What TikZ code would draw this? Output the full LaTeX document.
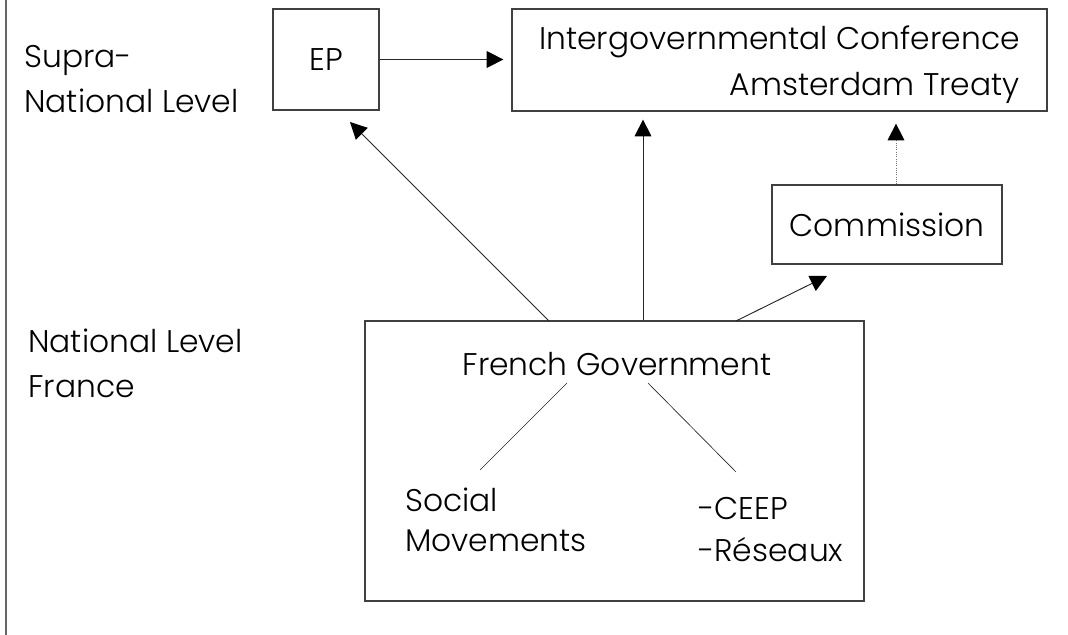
\documentclass[tikz,border=0pt]{standalone}
\usepackage{fontspec}
\setmainfont{Poppins Light}
\usetikzlibrary{arrows.meta}
\begin{document}
\begin{tikzpicture}[x=0.75pt,y=-0.75pt,
  box/.style={draw=black!75, line width=0.9pt, inner sep=0pt},
  lbl/.style={inner sep=0pt, font=\fontsize{23.5pt}{34pt}\selectfont},
  conn/.style={line width=0.7pt, draw=black!85},
  arr/.style={conn, -{Triangle[length=12.5pt,width=12.5pt,color=black]}},
]
\useasboundingbox (0,0) rectangle (1068,635);
\draw[line width=1pt, black!60] (6,0) -- (6,635);
% boxes
\node[box, lbl, minimum width=79.5pt, minimum height=75.75pt] (ep) at (326,59.5) {EP};
\node[box, minimum width=401.25pt, minimum height=76.5pt] (igc) at (779.5,60) {};
\node[box, lbl, minimum width=172.5pt, minimum height=59.25pt] (com) at (887,224.5) {Commission};
\node[box, minimum width=374.25pt, minimum height=210pt] (fg) at (614.5,461) {};
% texts (base anchor = baseline of last line)
\node[lbl, font=\fontsize{23.5pt}{35.25pt}\selectfont, align=right, anchor=base east] (igct) at (1020,96) {Intergovernmental Conference\\Amsterdam Treaty};
\node[lbl, anchor=base] (fgt) at (617,375) {French Government};
\node[lbl, font=\fontsize{23.5pt}{30pt}\selectfont, align=left, anchor=base west] (soc) at (405,551) {Social\\Movements};
\node[lbl, font=\fontsize{23.5pt}{31.5pt}\selectfont, align=left, anchor=base west] (ceep) at (698,561) {-CEEP\\-Réseaux};
\node[lbl, font=\fontsize{23.5pt}{33.75pt}\selectfont, align=left, anchor=base west] (supra) at (24,113) {Supra-\\National Level};
\node[lbl, font=\fontsize{23.5pt}{33.75pt}\selectfont, align=left, anchor=base west] (nat) at (28,397) {National Level\\France};
% coordinates
\coordinate (s1) at (549,321);
\coordinate (t1) at (350,122);
\coordinate (s2) at (736,321);
\coordinate (t2) at (827,276);
\coordinate (mx) at (643,0);
\coordinate (dx) at (896,0);
\coordinate (a1) at (567,383);
\coordinate (b1) at (480,470);
\coordinate (a2) at (648,383);
\coordinate (b2) at (736,472);
% connectors
\draw[arr, shorten >=6pt] (ep.east) -- (ep.east -| igc.west);
\draw[arr, shorten >=6pt] (mx |- fg.north) -- (mx |- igc.south);
\draw[arr, densely dotted, draw=black!55, shorten >=9pt] (dx |- com.north) -- (dx |- igc.south);
\draw[arr] (s1) -- (t1);
\draw[arr] (s2) -- (t2);
\draw[conn, line width=0.5pt] (a1) -- (b1);
\draw[conn, line width=0.5pt] (a2) -- (b2);
\end{tikzpicture}
\end{document}
